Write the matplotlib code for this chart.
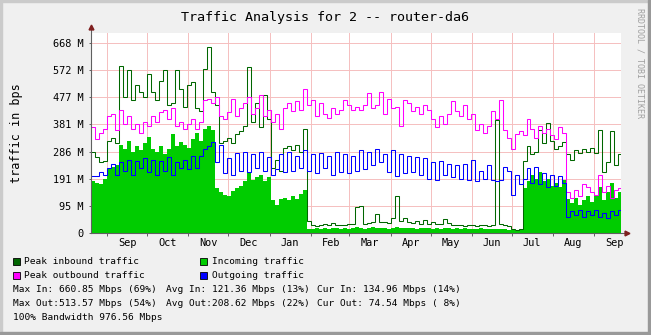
import datetime as dt
import matplotlib
matplotlib.use('Agg')
import matplotlib.pyplot as plt
import matplotlib.dates as mdates
from matplotlib.patches import Rectangle
from matplotlib.ticker import NullFormatter

# samples every 3 days, Mbps
start = dt.date(2003, 8, 20)
step_days = 3

incoming = [190, 185, 180, 200, 235, 245, 250, 325, 310, 340,
            300, 320, 305, 330, 355, 310, 300, 320, 290, 310,
            365, 320, 335, 325, 315, 345, 370, 340, 385, 395,
            380, 165, 150, 140, 135, 155, 165, 175, 190, 225,
            195, 205, 215, 190, 205, 120, 105, 125, 130, 120,
            135, 125, 145, 160, 15, 14, 18, 16, 20, 15,
            17, 19, 15, 18, 16, 20, 22, 18, 16, 19,
            21, 17, 20, 18, 16, 19, 22, 18, 20, 17,
            19, 16, 18, 20, 17, 15, 18, 16, 19, 17,
            15, 17, 16, 18, 15, 16, 14, 17, 15, 16,
            14, 15, 13, 14, 12, 10, 9, 11, 165, 190,
            215, 200, 225, 190, 200, 175, 185, 170, 195, 125,
            110, 130, 105, 120, 135, 115, 140, 170, 120, 150,
            185, 130, 150]

peak_in = [300, 280, 260, 265, 340, 350, 330, 615, 500, 600,
           490, 545, 520, 500, 585, 520, 490, 560, 600, 470,
           480, 600, 530, 465, 545, 555, 460, 450, 605, 685,
           520, 470, 330, 340, 350, 330, 365, 375, 395, 610,
           410, 480, 390, 510, 420, 240, 270, 230, 315, 320,
           305, 325, 300, 385, 45, 30, 25, 28, 32, 30,
           38, 30, 28, 30, 32, 35, 95, 100, 35, 38,
           40, 70, 40, 42, 38, 55, 135, 45, 55, 40,
           38, 45, 35, 48, 35, 40, 32, 35, 50, 38,
           30, 30, 28, 25, 28, 30, 25, 28, 30, 25,
           28, 415, 32, 30, 25, 15, 12, 15, 265, 320,
           290, 300, 380, 330, 405, 340, 310, 320, 335, 290,
           270, 305, 295, 310, 300, 315, 295, 380, 225, 260,
           375, 250, 290]

peak_out = [390, 345, 370, 385, 430, 440, 380, 455, 400, 430,
            385, 400, 370, 410, 395, 430, 410, 445, 455, 420,
            460, 395, 410, 385, 400, 420, 385, 410, 490, 495,
            480, 500, 430, 420, 445, 495, 430, 460, 480, 500,
            440, 460, 510, 430, 455, 410, 440, 385, 460, 480,
            450, 485, 455, 530, 470, 490, 430, 480, 440, 425,
            460, 440, 455, 490, 470, 455, 465, 455, 470, 515,
            460, 470, 520, 440, 495, 460, 465, 395, 490, 480,
            450, 465, 440, 470, 455, 420, 390, 430, 400, 440,
            485, 450, 430, 470, 420, 440, 380, 400, 370, 395,
            450, 420, 490, 380, 350, 310, 365, 375, 360, 420,
            385, 350, 395, 370, 385, 360, 345, 390, 370, 150,
            130, 160, 135, 180, 170, 150, 140, 215, 150, 175,
            130, 160, 165]

outgoing = [210, 210, 225, 215, 240, 255, 215, 260, 230, 270,
            215, 265, 240, 275, 225, 270, 215, 265, 230, 280,
            215, 260, 240, 270, 235, 285, 240, 285, 310, 320,
            335, 260, 325, 220, 275, 215, 295, 230, 300, 225,
            290, 240, 300, 230, 280, 215, 235, 290, 225, 300,
            230, 285, 240, 305, 230, 290, 220, 295, 240, 285,
            215, 300, 225, 290, 220, 285, 230, 305, 235, 300,
            250, 310, 260, 290, 225, 305, 210, 290, 220, 285,
            225, 280, 215, 275, 200, 260, 195, 265, 215, 255,
            205, 250, 200, 255, 195, 270, 190, 230, 200, 250,
            195, 190, 195, 245, 230, 140, 215, 180, 200, 240,
            185, 245, 180, 220, 170, 215, 175, 210, 185, 60,
            80, 65, 85, 60, 80, 65, 85, 60, 75, 55,
            80, 65, 85]

y_ticks = [0, 100, 200, 300, 400, 500, 600, 700]
y_labels = ['0', '95 M', '191 M', '286 M', '381 M', '477 M', '572 M', '668 M']

legend_items = [('Peak inbound traffic', '#006600'), ('Incoming traffic', '#00CC00'),
                ('Peak outbound traffic', '#FF00FF'), ('Outgoing traffic', '#0000FF')]
stats_rows = [['Max In: 660.85 Mbps (69%)', 'Avg In: 121.36 Mbps (13%)', 'Cur In: 134.96 Mbps (14%)'],
              ['Max Out:513.57 Mbps (54%)', 'Avg Out:208.62 Mbps (22%)', 'Cur Out: 74.54 Mbps ( 8%)'],
              ['100% Bandwidth 976.56 Mbps']]

W, H = 651, 335
mono = 'DejaVu Sans Mono'
fig = plt.figure(figsize=(W / 100, H / 100), dpi=100, facecolor='#F0F0F0')

def fx(px):
    return px / W

def fy(py):
    return 1 - py / H

# frame shading
fig.patches.append(Rectangle((0, fy(2)), 1, 2 / H, transform=fig.transFigure, color='#CBCBCB', zorder=0))
fig.patches.append(Rectangle((0, 0), 2 / W, 1, transform=fig.transFigure, color='#CBCBCB', zorder=0))
fig.patches.append(Rectangle((0, 0), 1, 3 / H, transform=fig.transFigure, color='#999999', zorder=0))
fig.patches.append(Rectangle((fx(648), 0), 3 / W, 1, transform=fig.transFigure, color='#999999', zorder=0))

ax = fig.add_axes([fx(91.3), fy(233), (621 - 91.3) / W, 200 / H])
ax.set_facecolor('white')

edges = mdates.date2num([start + dt.timedelta(days=step_days * k) for k in range(len(incoming) + 1)])
ax.stairs(incoming, edges, fill=True, color='#00CC00', baseline=0, zorder=2)
ax.stairs(peak_in, edges, baseline=None, color='#006600', lw=0.75, zorder=3)
ax.stairs(peak_out, edges, baseline=None, color='#FF00FF', lw=0.75, zorder=3)
ax.stairs(outgoing, edges, baseline=None, color='#0000FF', lw=0.75, zorder=4)

ax.set_xlim(mdates.date2num(dt.date(2003, 8, 20)), mdates.date2num(dt.date(2004, 9, 21)))
ax.set_ylim(0, 737)

ax.xaxis.set_major_locator(mdates.MonthLocator(bymonthday=1))
ax.xaxis.set_major_formatter(NullFormatter())
ax.xaxis.set_minor_locator(mdates.MonthLocator(bymonthday=16))
ax.xaxis.set_minor_formatter(mdates.DateFormatter('%b'))
ax.tick_params(axis='x', which='major', length=2.5, color='#606060', width=0.7)
ax.tick_params(axis='x', which='minor', length=0, pad=3.5, labelsize=7.4)
ax.set_yticks(y_ticks)
ax.set_yticklabels(y_labels)
ax.tick_params(axis='y', length=1.5, color='#606060', width=0.7, pad=3.8, labelsize=7.4)
for lab in ax.get_xticklabels(minor=True) + ax.get_yticklabels():
    lab.set_family(mono)

ax.grid(True, which='major', color='#F5BEBE', lw=0.7, zorder=1)
ax.set_axisbelow(True)
for s in ax.spines.values():
    s.set_visible(False)

# axes with arrows
ax.plot([0, 0], [0, 1.03], transform=ax.transAxes, color='#606060', lw=0.8, clip_on=False, zorder=5)
ax.plot([0, 1.012], [0, 0], transform=ax.transAxes, color='#606060', lw=0.8, clip_on=False, zorder=5)
ax.plot([0], [1.03], marker='^', markersize=3.5, color='#7F1F1F', transform=ax.transAxes, clip_on=False, zorder=6)
ax.plot([1.012], [0], marker='>', markersize=3.5, color='#7F1F1F', transform=ax.transAxes, clip_on=False, zorder=6)

fig.text(fx(325), fy(17), 'Traffic Analysis for 2 -- router-da6', ha='center', va='center',
         fontsize=9.6, family=mono)
fig.text(fx(17), fy(133), 'traffic in bps', rotation=90, ha='center', va='center',
         fontsize=8.5, family=mono)
fig.text(fx(640), fy(63), 'RRDTOOL / TOBI OETIKER', rotation=270, ha='center', va='center',
         fontsize=6, family=mono, color='#A0A0A0')

# legend
box_x = [13.3, 200]
text_x = [24.3, 211.7]
row_y = [261, 275]
for k, (name, col) in enumerate(legend_items):
    r, c = k // 2, k % 2
    fig.patches.append(Rectangle((fx(box_x[c]), fy(row_y[r] + 3.5)), 7 / W, 7 / H,
                                 transform=fig.transFigure, facecolor=col, edgecolor='black', lw=0.6))
    fig.text(fx(text_x[c]), fy(row_y[r]), name, ha='left', va='center', fontsize=6.8, family=mono)

stat_x = [13.3, 165.7, 316.7]
stat_y = [289, 303, 317]
for r, row in enumerate(stats_rows):
    for c, txt in enumerate(row):
        fig.text(fx(stat_x[c]), fy(stat_y[r]), txt, ha='left', va='center', fontsize=6.8, family=mono)

fig.savefig('out.png', dpi=100, facecolor=fig.get_facecolor())
